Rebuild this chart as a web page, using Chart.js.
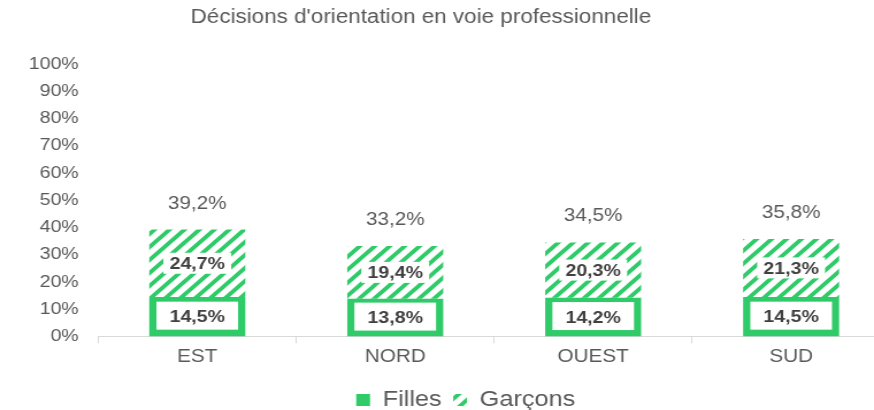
<!DOCTYPE html>
<html>
<head>
<meta charset="utf-8">
<script src="https://cdn.jsdelivr.net/npm/chart.js@4.4.1/dist/chart.umd.min.js"></script>
<style>
  html, body { margin: 0; padding: 0; background: #fff; overflow: hidden; width: 874px; height: 410px; }
  #wrap { width: 810px; height: 410px; transform: scaleX(1.15); transform-origin: 0 0; }
</style>
</head>
<body>
<div id="wrap"><canvas id="chart" width="810" height="410"></canvas></div>
<script>
const categories = ['EST', 'NORD', 'OUEST', 'SUD'];
const filles = [14.5, 13.8, 14.2, 14.5];
const garcons = [24.7, 19.4, 20.3, 21.3];
const totals = [39.2, 33.2, 34.5, 35.8];
const yTicks = [0, 10, 20, 30, 40, 50, 60, 70, 80, 90, 100];

const green = '#2fcb69';
const textGrey = '#595959';
const FONT = "'Liberation Sans', Arial, sans-serif";

Chart.defaults.font.family = FONT;
Chart.defaults.color = textGrey;

function fmt(v) {
    return v.toFixed(1).replace('.', ',') + '%';
}

// diagonal hatch for the Garçons series
function makeHatch() {
    const s = 13;
    const c = document.createElement('canvas');
    c.width = s; c.height = s;
    const g = c.getContext('2d');
    g.strokeStyle = green;
    g.lineWidth = 3.8;
    g.beginPath();
    g.moveTo(0, s); g.lineTo(s, 0);
    g.moveTo(-2, 2); g.lineTo(2, -2);
    g.moveTo(s - 2, s + 2); g.lineTo(s + 2, s - 2);
    g.stroke();
    return g.createPattern(c, 'repeat');
}

const barLabels = {
    id: 'barLabels',
    afterLayout(chart) {
        // nudge the legend lower and to the right, like the original
        const lg = chart.legend;
        lg.top += 11;
        lg.bottom += 11;
        lg.left += 14;
        lg.right += 14;
    },
    afterDatasetsDraw(chart) {
        const ctx = chart.ctx;
        ctx.save();
        ctx.textAlign = 'center';
        ctx.textBaseline = 'middle';
        ctx.font = 'bold 17px ' + FONT;
        chart.data.datasets.forEach((ds, di) => {
            const meta = chart.getDatasetMeta(di);
            meta.data.forEach((bar, i) => {
                const cy = (bar.y + bar.base) / 2;
                const w = di === 0 ? 71 : 59;
                const h = di === 0 ? 28 : 21;
                ctx.fillStyle = '#ffffff';
                ctx.fillRect(bar.x - w / 2, cy - h / 2 - (di === 0 ? 1 : 0), w, h);
                ctx.fillStyle = '#404040';
                ctx.fillText(fmt(ds.data[i]), bar.x, cy + 1);
            });
        });
        // totals above the stacks
        ctx.font = '18px ' + FONT;
        ctx.fillStyle = textGrey;
        chart.getDatasetMeta(1).data.forEach((bar, i) => {
            ctx.fillText(fmt(totals[i]), bar.x, bar.y - 26);
        });
        ctx.restore();
    },
    afterDraw(chart) {
        const ctx = chart.ctx;
        ctx.save();
        ctx.font = '19.5px ' + FONT;
        ctx.fillStyle = textGrey;
        ctx.textAlign = 'center';
        ctx.textBaseline = 'middle';
        ctx.fillText("Décisions d'orientation en voie professionnelle", 366, 18);
        ctx.restore();
    }
};

const ctx = document.getElementById('chart').getContext('2d');

new Chart(ctx, {
    type: 'bar',
    data: {
        labels: categories,
        datasets: [{
            label: 'Filles',
            data: filles,
            backgroundColor: green,
            borderWidth: 0,
            categoryPercentage: 1,
            barPercentage: 0.485
        }, {
            label: 'Garçons',
            data: garcons,
            backgroundColor: makeHatch(),
            borderWidth: 0,
            categoryPercentage: 1,
            barPercentage: 0.485
        }]
    },
    options: {
        responsive: false,
        animation: false,
        layout: {
            padding: { top: 64, left: 8, right: 36, bottom: 0 }
        },
        scales: {
            x: {
                stacked: true,
                grid: {
                    display: true,
                    drawOnChartArea: false,
                    color: '#d9d9d9',
                    tickLength: 7,
                    offset: true
                },
                border: { color: '#d9d9d9' },
                ticks: {
                    color: textGrey,
                    font: { size: 18 },
                    padding: 3
                },
                afterFit(axis) {
                    axis.height -= 3;
                }
            },
            y: {
                stacked: true,
                min: 0,
                max: 100,
                afterBuildTicks(axis) {
                    axis.ticks = yTicks.map(v => ({ value: v }));
                },
                grid: { display: false, drawTicks: false },
                border: { display: false },
                ticks: {
                    color: textGrey,
                    font: { size: 17 },
                    padding: 17,
                    callback: v => v + '%'
                }
            }
        },
        plugins: {
            title: { display: false },
            tooltip: { enabled: false },
            legend: {
                position: 'bottom',
                labels: {
                    color: textGrey,
                    font: { size: 22 },
                    boxWidth: 12,
                    boxHeight: 12,
                    padding: 10
                }
            }
        }
    },
    plugins: [barLabels]
});
</script>
</body>
</html>
